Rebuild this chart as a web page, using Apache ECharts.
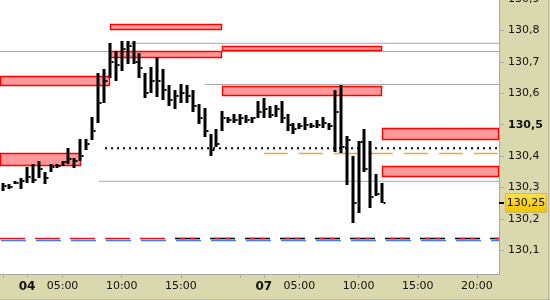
<!DOCTYPE html>
<html><head><meta charset="utf-8">
<script src="https://cdn.jsdelivr.net/npm/echarts@6/dist/echarts.min.js"></script>
<style>html,body{margin:0;padding:0;background:#dad8ad;overflow:hidden}#c{width:550px;height:300px}</style>
</head><body><div id="c"></div>
<script>
// trading hours since start of day 04 session (weekend removed)
const barHour = [-2,-1.5,-1,-0.5,0,0.5,1,1.5,2,2.5,3,3.5,4,4.5,5,5.5,6,6.5,7,7.5,8,8.5,9,9.5,10,10.5,11,11.5,12,12.5,13,13.5,14,14.5,15,15.5,16,16.5,17,17.5,18,18.5,19,19.5,20,20.5,21,21.5,22,22.5,23,23.5,24,24.5,25,25.5,26,26.5,27,27.5,28,28.5,29,29.5,30];
const barHigh = [130.313,130.310,130.320,130.332,130.367,130.374,130.386,130.351,130.374,130.374,130.386,130.425,130.393,130.456,130.453,130.523,130.663,130.676,130.759,130.736,130.765,130.765,130.765,130.727,130.663,130.685,130.717,130.676,130.625,130.609,130.631,130.625,130.612,130.565,130.552,130.472,130.485,130.545,130.526,130.533,130.533,130.530,130.526,130.574,130.584,130.561,130.564,130.574,130.533,130.504,130.507,130.523,130.507,130.514,130.523,130.504,130.612,130.625,130.465,130.402,130.447,130.485,130.447,130.342,130.313];
const barLow = [130.288,130.297,130.310,130.297,130.313,130.313,130.329,130.310,130.348,130.361,130.370,130.374,130.361,130.386,130.421,130.450,130.504,130.568,130.650,130.638,130.670,130.692,130.692,130.650,130.584,130.600,130.587,130.580,130.561,130.549,130.568,130.568,130.539,130.501,130.460,130.402,130.428,130.479,130.504,130.504,130.498,130.504,130.504,130.520,130.520,130.520,130.523,130.504,130.479,130.469,130.485,130.482,130.488,130.488,130.488,130.482,130.412,130.409,130.307,130.186,130.218,130.348,130.234,130.272,130.250];
const barClose = [130.304,130.303,130.313,130.320,130.335,130.325,130.360,130.330,130.365,130.370,130.380,130.390,130.385,130.400,130.440,130.480,130.570,130.640,130.700,130.690,130.740,130.750,130.700,130.680,130.600,130.640,130.640,130.610,130.580,130.590,130.600,130.590,130.560,130.520,130.480,130.420,130.440,130.520,130.515,130.515,130.520,130.515,130.520,130.540,130.550,130.530,130.550,130.520,130.500,130.485,130.495,130.500,130.495,130.500,130.505,130.495,130.539,130.430,130.450,130.250,130.444,130.360,130.269,130.281,130.250];
const lastPrice = 130.25;

// supply / demand zones
const zoneStart  = [7.01, 7.01, 16.47, -2.3, 16.47, -2.3, 29.98, 29.98];
const zoneEnd    = [16.47, 16.47, 29.98, 7.01, 29.98, 4.56, 39.9, 39.9];
const zoneTop    = [130.819, 130.733, 130.752, 130.654, 130.622, 130.409, 130.488, 130.370];
const zoneBottom = [130.800, 130.711, 130.733, 130.622, 130.590, 130.370, 130.450, 130.335];

// grey level lines
const grayStart = [8.45, -2.3, 15.03, 6.08];
const grayEnd   = [39.9, 39.9, 39.9, 39.9];
const grayLevel = [130.759, 130.733, 130.628, 130.320];

const dottedLevel = 130.425, dottedStart = 6.59;
const orangeLevel = 130.4084, orangeStart = 20.0;
const redLevel = 130.138, blueLevel = 130.1316, blackDashStart = 12.5;

const xTickHours  = [-2, 0, 3, 8, 13, 18, 20, 23, 28, 33, 38];
const xLabelHours = [0, 3, 8, 13, 20, 23, 28, 33, 38];
const xLabelText  = ['04', '05:00', '10:00', '15:00', '07', '05:00', '10:00', '15:00', '20:00'];
const xLabelBold  = [true, false, false, false, true, false, false, false, false];
const yTickValues = [130.1, 130.2, 130.3, 130.4, 130.5, 130.6, 130.7, 130.8, 130.9];
const yBoldValue = 130.5;

const X_MIN = -2.28, X_MAX = 39.86;

const chart = echarts.init(document.getElementById('c'), null, {renderer: 'canvas'});

const bars = barHour.map((t, i) => [t, barHigh[i], barLow[i], barClose[i]]);
const zones = zoneStart.map((s, i) => [s, zoneEnd[i], zoneTop[i], zoneBottom[i]]);

function hline(start, end, level, style, z) {
  return {type: 'line', data: [[start, level], [end, level]], showSymbol: false, symbol: 'none',
    silent: true, animation: false, lineStyle: style, z: z, clip: true};
}

const series = [];
grayStart.forEach((s, i) => series.push(hline(s, grayEnd[i], grayLevel[i], {color: '#a9a9a9', width: 1}, 1)));
series.push(hline(orangeStart, X_MAX, orangeLevel, {color: '#f0a83a', width: 1.4, type: [24, 11]}, 2));
series.push(hline(X_MIN, X_MAX, blueLevel, {color: '#3f7cf0', width: 1.3, type: [25, 10], dashOffset: 34}, 2));
series.push(hline(X_MIN, blackDashStart, redLevel, {color: '#e3161d', width: 1.3, type: [25, 10]}, 2));
series.push(hline(blackDashStart, X_MAX, redLevel, {color: '#000000', width: 1.3, type: [25, 10]}, 2));
series.push(hline(blackDashStart, X_MAX, redLevel, {color: '#e3161d', width: 1.3, type: [5, 5, 5, 20], dashOffset: 30}, 3));
series.push({
  type: 'custom', z: 4, silent: true, animation: false, clip: true,
  data: zones,
  renderItem: function (params, api) {
    const p1 = api.coord([api.value(0), api.value(2)]);
    const p2 = api.coord([api.value(1), api.value(3)]);
    const x1 = Math.round(p1[0]) + 0.5, y1 = Math.round(p1[1]) + 0.5;
    const x2 = Math.round(p2[0]) - 0.5, y2 = Math.round(p2[1]) - 0.5;
    return {type: 'rect', shape: {x: x1, y: y1, width: x2 - x1, height: y2 - y1},
      style: {fill: '#ff9898', stroke: '#ff0000', lineWidth: 1.4}};
  }
});
series.push(hline(dottedStart, X_MAX, dottedLevel, {color: '#000000', width: 2, type: [2, 4]}, 5));
series.push({
  type: 'custom', z: 6, silent: true, animation: false, clip: true,
  data: bars,
  renderItem: function (params, api) {
    const t = api.value(0);
    const hi = api.coord([t, api.value(1)]);
    const lo = api.coord([t, api.value(2)]);
    const cl = api.coord([t, api.value(3)]);
    const x = Math.round(hi[0]);
    return {type: 'group', children: [
      {type: 'rect', shape: {x: x - 1.5, y: Math.round(hi[1]), width: 3, height: Math.max(2, Math.round(lo[1]) - Math.round(hi[1]))}, style: {fill: '#000'}},
      {type: 'rect', shape: {x: x + 1.5, y: Math.round(cl[1]) - 1, width: 2, height: 2}, style: {fill: '#000'}}
    ]};
  }
});

chart.setOption({
  animation: false,
  backgroundColor: '#dad8ad',
  grid: {left: 0, top: -1, right: 51, bottom: 26, show: true, backgroundColor: '#ffffff', borderWidth: 0,
    containLabel: false, outerBoundsMode: 'none'},
  xAxis: {
    type: 'value', min: X_MIN, max: X_MAX,
    axisLine: {show: true, onZero: false, lineStyle: {color: '#a8a8a8', width: 1}},
    splitLine: {show: false},
    axisTick: {show: true, length: 4, customValues: xTickHours, lineStyle: {color: '#a8a8a8'}},
    axisLabel: {
      customValues: xLabelHours, margin: 7, color: '#111',
      fontFamily: 'DejaVu Sans', fontSize: 11,
      formatter: function (v) {
        const i = xLabelHours.indexOf(v);
        if (i < 0) return '';
        return xLabelBold[i] ? '{b|' + xLabelText[i] + '}' : xLabelText[i];
      },
      rich: {b: {fontWeight: 'bold', fontFamily: 'DejaVu Sans', fontSize: 12, color: '#111'}}
    }
  },
  yAxis: {
    type: 'value', position: 'right', min: 130.025, max: 130.9,
    axisLine: {show: true, onZero: false, lineStyle: {color: '#a8a8a8', width: 1}},
    splitLine: {show: false},
    axisTick: {show: true, length: 5, customValues: yTickValues, lineStyle: {color: '#b0b0b0'}},
    axisLabel: {
      customValues: yTickValues, margin: 9, color: '#111', showMinLabel: true, showMaxLabel: true,
      fontFamily: 'DejaVu Sans', fontSize: 11,
      formatter: function (v) {
        const s = (Math.round(v * 10) / 10).toFixed(1).replace('.', ',');
        return Math.abs(v - yBoldValue) < 1e-6 ? '{b|' + s + '}' : s;
      },
      rich: {b: {fontWeight: 'bold', fontFamily: 'DejaVu Sans', fontSize: 11, color: '#111'}}
    }
  },
  series: series
});

// current price label
const py = Math.round(chart.convertToPixel({yAxisIndex: 0}, lastPrice));
const px = Math.round(chart.convertToPixel({xAxisIndex: 0}, X_MAX));
chart.setOption({graphic: [
  {type: 'rect', shape: {x: px, y: py - 1, width: 5, height: 2}, style: {fill: '#000'}, z: 100},
  {type: 'rect', shape: {x: px + 6.5, y: py - 9.5, width: 41, height: 19},
    style: {fill: new echarts.graphic.LinearGradient(0, 0, 0, 1, [{offset: 0, color: '#ffe34a'}, {offset: 1, color: '#f2c200'}]),
      stroke: '#c8b870', lineWidth: 1}, z: 100},
  {type: 'text', x: px + 27, y: py, style: {text: lastPrice.toFixed(2).replace('.', ','), fill: '#111',
    font: '11px "DejaVu Sans"', align: 'center', verticalAlign: 'middle'}, z: 101},
  {type: 'line', shape: {x1: 0, y1: 299.5, x2: 550, y2: 299.5}, style: {stroke: '#b8b8a0', lineWidth: 1}, z: 100},
  {type: 'line', shape: {x1: 548.5, y1: 0, x2: 548.5, y2: 300}, style: {stroke: '#b8b8a0', lineWidth: 1}, z: 100}
]});
</script></body></html>
